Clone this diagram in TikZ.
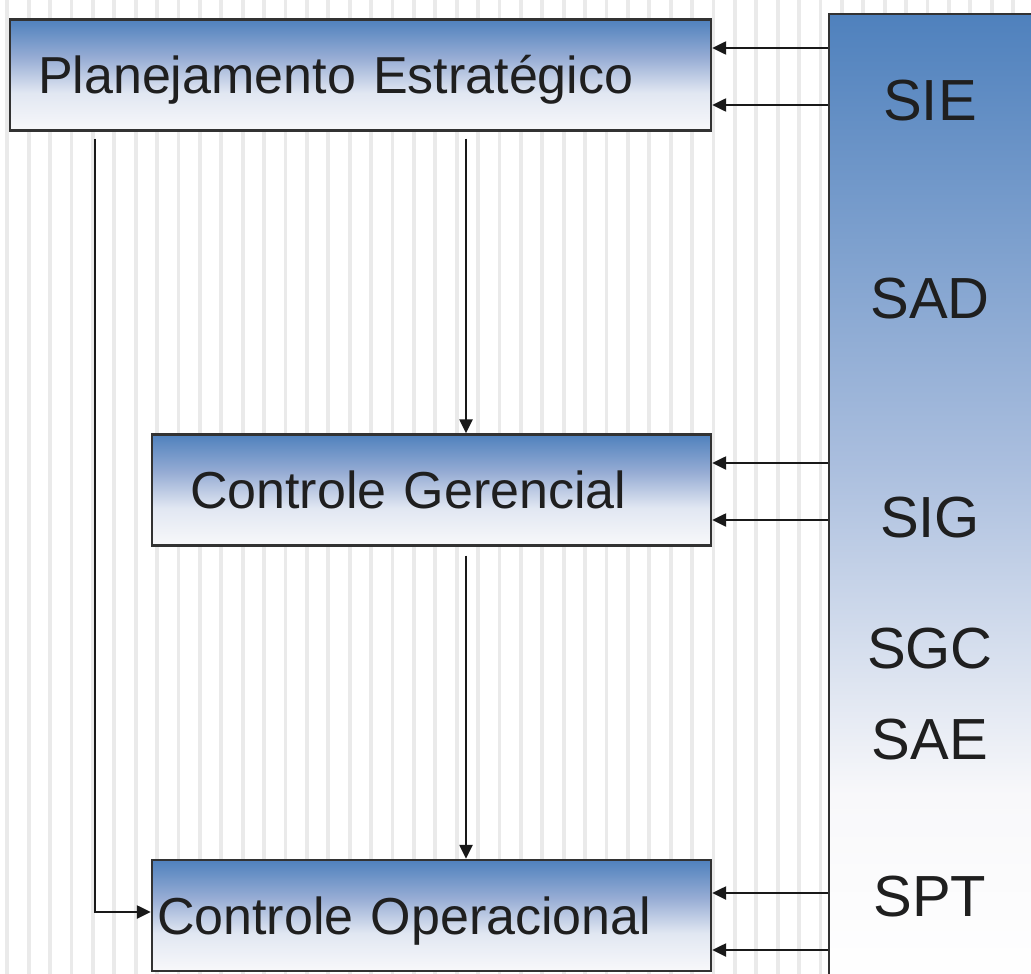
\documentclass[tikz,border=0pt]{standalone}
\usepackage{fontspec}
\setmainfont{Liberation Sans}
\usetikzlibrary{arrows.meta,calc}
\definecolor{boxblue}{RGB}{79,129,189}
\definecolor{mid1}{RGB}{150,172,212}
\definecolor{mid2}{RGB}{225,231,242}
\definecolor{low}{RGB}{248,248,250}
\definecolor{stripe}{RGB}{234,234,234}
\definecolor{edge}{RGB}{50,50,50}
\definecolor{colmid}{RGB}{170,190,222}
\pgfdeclareverticalshading{boxshade}{100bp}{color(0bp)=(low); color(25bp)=(low); color(42bp)=(mid2); color(58bp)=(mid1); color(75bp)=(boxblue); color(100bp)=(boxblue)}
\pgfdeclareverticalshading{colshade}{100bp}{color(0bp)=(white); color(25bp)=(white); color(35bp)=(low); color(52bp)=(colmid); color(75bp)=(boxblue); color(100bp)=(boxblue)}
\tikzset{
  levelbox/.style={draw=edge, line width=2.4pt, shading=boxshade, rectangle,
    minimum height=111pt, text height=37pt, text depth=0pt,
    font=\fontsize{52pt}{60pt}\selectfont, align=left, text=black!88},
  syslabel/.style={font=\fontsize{58pt}{66pt}\selectfont, text=black!88, inner sep=0pt},
  arr/.style={draw=black!90, line width=2.4pt, -{Triangle[length=14pt,width=13pt]}},
}
\begin{document}
\begin{tikzpicture}[x=1pt,y=-1pt]
\useasboundingbox (0,0) rectangle (1031,974);
\begin{scope}
\clip (0,0) rectangle (1031,974);
\fill[white] (0,0) rectangle (1031,974);
\foreach \sx in {7.3,28.7,...,1030} {
  \fill[stripe] (\sx-1.9,0) rectangle (\sx+1.9,974);
}
% system column
\node[draw=edge, line width=2.4pt, shading=colshade, rectangle, minimum width=230pt, minimum height=975pt, anchor=north west, inner sep=0pt] (sys) at (828,13) {};
\end{scope}
\node[syslabel] (sie) at (930,101) {SIE};
\node[syslabel] (sad) at (930,299) {SAD};
\node[syslabel] (sig) at (930,518) {SIG};
\node[syslabel] (sgc) at (930,649) {SGC};
\node[syslabel] (sae) at (930,740) {SAE};
\node[syslabel] (spt) at (930,897) {SPT};
% level boxes
\node[levelbox, minimum width=701pt, text width=645pt, inner xsep=28pt] (pe) at (360.5,75) {Planejamento Estratégico};
\node[levelbox, minimum width=559pt, text width=483pt, inner xsep=38pt] (cg) at (431.5,490) {Controle Gerencial};
\node[levelbox, minimum width=559pt, text width=549pt, inner xsep=5pt] (co) at (431.5,915.5) {Controle Operacional};
% arrows from systems column
\draw[arr] (sys.west |- 0,48) -- (pe.east |- 0,48);
\draw[arr] (sys.west |- 0,105) -- (pe.east |- 0,105);
\draw[arr] (sys.west |- 0,463) -- (cg.east |- 0,463);
\draw[arr] (sys.west |- 0,520) -- (cg.east |- 0,520);
\draw[arr] (sys.west |- 0,893) -- (co.east |- 0,893);
\draw[arr] (sys.west |- 0,950) -- (co.east |- 0,950);
% vertical flow
\draw[arr] ($(pe.south -| 466,0)+(0,7)$) -- (cg.north -| 466,0);
\draw[arr] ($(cg.south -| 466,0)+(0,9)$) -- (co.north -| 466,0);
\draw[arr] ($(pe.south -| 95,0)+(0,7)$) |- (co.west |- 0,912);
\end{tikzpicture}
\end{document}
